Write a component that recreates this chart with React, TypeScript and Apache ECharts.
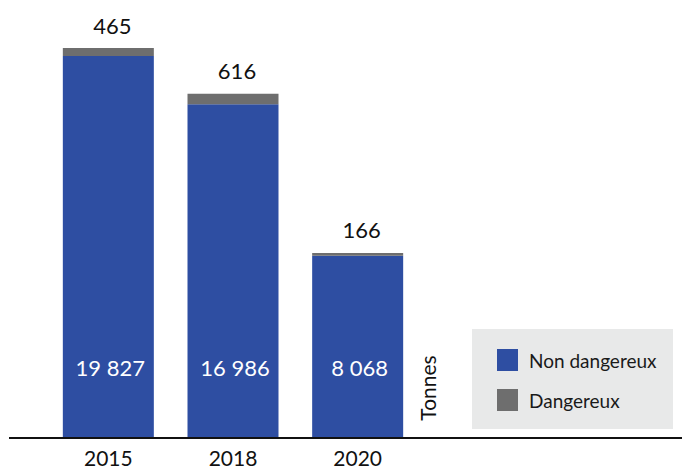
import React, { useEffect, useRef } from 'react';
import * as echarts from 'echarts';

const categories = ['2015', '2018', '2020'];
const nonDangerous = [19827, 16986, 8068];
const dangerous = [465, 616, 166];
const seriesNames = ['Non dangereux', 'Dangereux'];
const unitLabel = 'Tonnes';

const Y_MIN = -2600;
const Y_MAX = 22000;
const BLUE = '#2e4ea2';
const GRAY = '#6e6e6e';
const FONT = 'Lato, "Noto Sans", sans-serif';

const fmt = (v: number) => String(v).replace(/\B(?=(\d{3})+(?!\d))/g, ' ');

export default function App() {
  const ref = useRef<HTMLDivElement>(null);
  useEffect(() => {
    const chart = echarts.init(ref.current!, null, { renderer: 'svg' });

    const blueRender = (params: any, api: any) => {
      const idx = api.value(0);
      const val = api.value(1);
      const base = api.coord([idx, Y_MIN]);
      const top = api.coord([idx, val]);
      const bw = api.size([1, 0])[0] * 0.73;
      return {
        type: 'group',
        children: [
          {
            type: 'rect',
            shape: { x: base[0] - bw / 2, y: top[1], width: bw, height: base[1] - top[1] },
            style: { fill: BLUE },
          },
          {
            type: 'text',
            x: base[0] + 2,
            y: base[1] - 70,
            style: {
              text: fmt(val),
              fill: '#ffffff',
              fontSize: 22,
              fontFamily: FONT,
              align: 'center',
              verticalAlign: 'middle',
            },
          },
        ],
      };
    };

    const grayRender = (params: any, api: any) => {
      const idx = api.value(0);
      const lower = api.value(1);
      const val = api.value(2);
      const b = api.coord([idx, lower]);
      const t = api.coord([idx, lower + val]);
      const bw = api.size([1, 0])[0] * 0.73;
      return {
        type: 'group',
        children: [
          {
            type: 'rect',
            shape: { x: b[0] - bw / 2, y: t[1], width: bw, height: b[1] - t[1] },
            style: { fill: GRAY },
          },
          {
            type: 'text',
            x: b[0] + 4,
            y: t[1] - 23,
            style: {
              text: fmt(val),
              fill: '#111111',
              fontSize: 22,
              fontFamily: FONT,
              align: 'center',
              verticalAlign: 'middle',
            },
          },
        ],
      };
    };

    chart.setOption({
      animation: false,
      textStyle: { fontFamily: FONT },
      grid: { left: 46, width: 374, top: 19, bottom: 33 },
      xAxis: {
        type: 'category',
        data: categories,
        axisLine: { show: false },
        axisTick: { show: false },
        axisLabel: { fontSize: 21, color: '#111111', margin: 10, fontFamily: FONT },
      },
      yAxis: {
        type: 'value',
        min: Y_MIN,
        max: Y_MAX,
        show: false,
        splitLine: { show: false },
      },
      legend: {
        orient: 'vertical',
        left: 497,
        top: 349,
        padding: 0,
        itemWidth: 21,
        itemHeight: 22,
        itemGap: 18,
        icon: 'rect',
        selectedMode: false,
        data: seriesNames,
        textStyle: { fontSize: 19, color: '#1a1a1a', fontFamily: FONT, padding: [0, 0, 0, 6] },
      },
      graphic: [
        {
          type: 'rect',
          z: -1,
          shape: { x: 472, y: 329, width: 201, height: 100 },
          style: { fill: '#e8e9e9' },
        },
        {
          type: 'line',
          z: 10,
          shape: { x1: 9, y1: 438, x2: 682, y2: 438 },
          style: { stroke: '#111111', lineWidth: 2.2 },
        },
        {
          type: 'text',
          x: 427,
          y: 388,
          rotation: Math.PI / 2,
          style: {
            text: unitLabel,
            fill: '#111111',
            fontSize: 21,
            fontFamily: FONT,
            align: 'center',
            verticalAlign: 'middle',
          },
        },
      ],
      series: [
        {
          name: seriesNames[0],
          type: 'custom',
          itemStyle: { color: BLUE },
          renderItem: blueRender,
          data: nonDangerous.map((v, i) => [i, v]),
        },
        {
          name: seriesNames[1],
          type: 'custom',
          itemStyle: { color: GRAY },
          renderItem: grayRender,
          encode: { x: 0, y: [1, 2] },
          data: dangerous.map((v, i) => [i, nonDangerous[i], v]),
        },
      ],
    });
    return () => chart.dispose();
  }, []);
  return (
    <div
      ref={ref}
      style={{ position: 'absolute', left: 0, top: 0, width: 682, height: 470 }}
    />
  );
}
